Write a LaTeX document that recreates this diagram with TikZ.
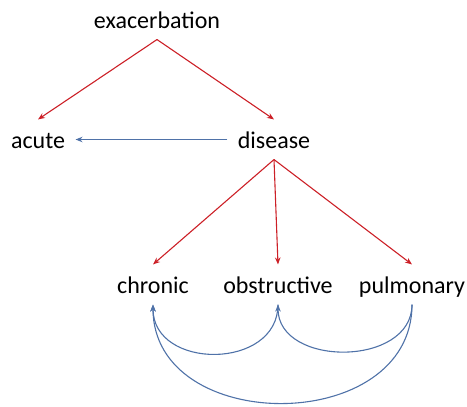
\documentclass[tikz,border=0pt]{standalone}
\usepackage{fontspec}
\setmainfont{Carlito}
\usetikzlibrary{arrows.meta}
\definecolor{linkred}{RGB}{204,32,39}
\definecolor{linkblue}{RGB}{79,114,168}
\begin{document}
\begin{tikzpicture}[x=1pt,y=-1pt,line width=1.1pt,
	word/.style={anchor=base,font=\fontsize{24}{28}\selectfont,text height=25pt,text depth=8pt,inner xsep=10pt,inner ysep=3pt},
	down/.style={linkred,-{Stealth[length=7pt,width=5.5pt]}},
	back/.style={linkblue,-{Stealth[length=7pt,width=5.5pt]}}]
	\useasboundingbox (0,0) rectangle (467,407);
	\node [word] (exac) at (157,28) {exacerbation};
	\node [word] (acute) at (38,148) {acute};
	\node [word] (disease) at (274,148) {disease};
	\node [word] (chronic) at (153,293) {chronic};
	\node [word] (obstr) at (278,293) {obstructive};
	\node [word] (pulm) at (412,293) {pulmonary};
	\draw [down] (exac.south) -- (acute.north);
	\draw [down] (exac.south) -- (disease.north);
	\draw [back] (disease.west) -- (acute.east);
	\draw [down] (disease.south) -- (chronic.north);
	\draw [down] (disease.south) -- (obstr.north);
	\draw [down] (disease.south) -- (pulm.north);
	\draw [back] (obstr.south) to [out=-90,in=-90,looseness=1.35] (chronic.south);
	\draw [back] (pulm.south) to [out=-90,in=-90,looseness=1.2] (obstr.south);
	\draw [back] (pulm.south) to [out=-90,in=-90,looseness=1.3] (chronic.south);
\end{tikzpicture}
\end{document}
